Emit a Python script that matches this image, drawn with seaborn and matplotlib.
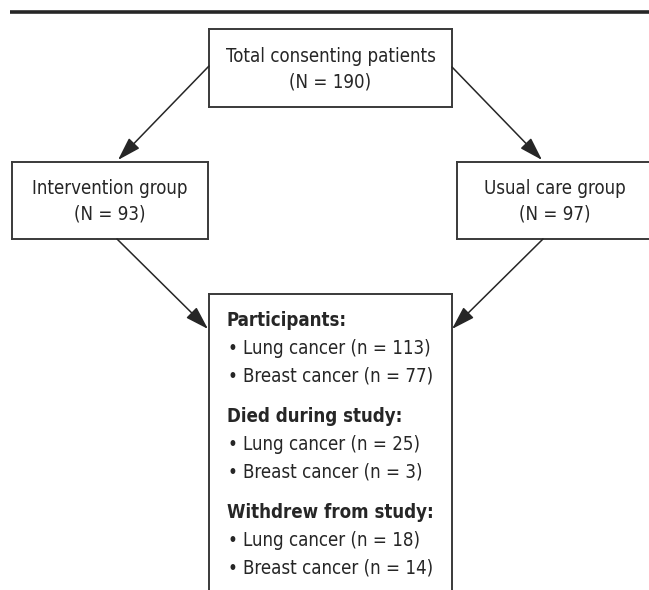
import matplotlib
matplotlib.use('Agg')
import matplotlib.pyplot as plt
import matplotlib.patches as mpatches
import seaborn as sns

# Flowchart content
top_label = 'Total consenting patients'
total_n = 190
group_labels = ['Intervention group', 'Usual care group']
group_n = [93, 97]
sections = ['Participants:', 'Died during study:', 'Withdrew from study:']
cancers = ['Lung cancer', 'Breast cancer']
lung_n = [113, 25, 18]
breast_n = [77, 3, 14]

sns.set_theme(style='white')
plt.rcParams['font.family'] = ['DejaVu Sans']
plt.rcParams['font.stretch'] = 'condensed'

W, H = 649, 590
fig = plt.figure(figsize=(W / 100, H / 100), dpi=100)
ax = fig.add_axes([0, 0, 1, 1])
ax.set_xlim(0, W)
ax.set_ylim(H, 0)
ax.axis('off')

ink = '#262626'
edge = '#3a3a3a'
fs = 13.4

# top rule
ax.plot([10, W], [12, 12], color=ink, lw=2.6, solid_capstyle='butt')


def box(x0, y0, x1, y1, sides='lrtb'):
    segs = {'l': ([x0, x0], [y0, y1]), 'r': ([x1, x1], [y0, y1]),
            't': ([x0, x1], [y0, y0]), 'b': ([x0, x1], [y1, y1])}
    for s in sides:
        ax.plot(*segs[s], color=edge, lw=1.4, solid_capstyle='projecting')


def arrow(p0, p1):
    ax.annotate('', xy=p1, xytext=p0,
                arrowprops=dict(arrowstyle='-|>,head_length=0.8,head_width=0.25',
                                color=ink, lw=1.1, mutation_scale=18,
                                shrinkA=0, shrinkB=0))


# top box
box(209, 29, 452, 107)
ax.text(330.5, 57, top_label, ha='center', va='center', fontsize=fs, color=ink)
ax.text(330.5, 82, f'(N = {total_n})', ha='center', va='center', fontsize=fs, color=ink)

# group boxes (right one runs off the right edge)
group_boxes = [(12, 162, 208, 239, 'lrtb'), (457, 162, 649, 239, 'ltb')]
group_cx = [110, 555]
for (x0, y0, x1, y1, sd), cx, lab, n in zip(group_boxes, group_cx, group_labels, group_n):
    box(x0, y0, x1, y1, sd)
    ax.text(cx, 189, lab, ha='center', va='center', fontsize=fs, color=ink)
    ax.text(cx, 214, f'(N = {n})', ha='center', va='center', fontsize=fs, color=ink)

# bottom box (runs off the bottom edge)
box(209, 294, 452, H, 'lrt')

arrow((209, 66), (118, 160))
arrow((452, 67), (542, 160))
arrow((117, 239), (208, 329))
arrow((543, 239), (452, 329))

y = 321
for sec, ln, bn in zip(sections, lung_n, breast_n):
    ax.text(227, y, sec, ha='left', va='center', fontsize=fs, color=ink,
            fontweight='bold')
    for c, n in zip(cancers, [ln, bn]):
        y += 27.5
        ax.text(228, y, '\u2022', ha='left', va='center', fontsize=fs, color=ink)
        ax.text(243, y, f'{c} (n = {n})', ha='left', va='center', fontsize=fs,
                color=ink)
    y += 41

fig.savefig('out.png', dpi=100)
